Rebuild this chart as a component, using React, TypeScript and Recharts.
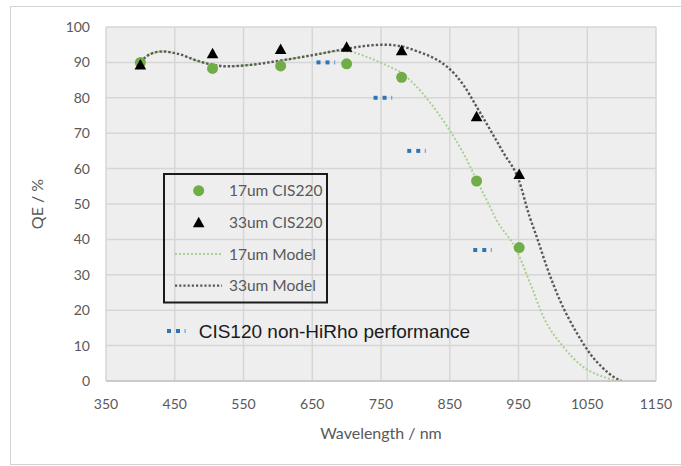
import React from 'react';
import { ComposedChart, XAxis, YAxis, CartesianGrid, Line, Scatter, Legend } from 'recharts';

// ---- data ----
const xTicks = [350, 450, 550, 650, 750, 850, 950, 1050, 1150];
const yTicks = [0, 10, 20, 30, 40, 50, 60, 70, 80, 90, 100];

const wl17 = [400, 505, 604, 700, 780, 889, 951];
const qe17 = [90, 88.3, 89, 89.6, 85.8, 56.5, 37.7];

const wl33 = [400, 505, 604, 700, 780, 889, 951];
const qe33 = [89.4, 92.6, 93.8, 94.4, 93.4, 74.8, 58.5];

const wlCis120 = [670, 753, 802, 898];
const qeCis120 = [90, 80, 65, 37];

const wlModel33 = [400, 415, 432, 453, 487, 525, 560, 603, 652, 690, 729, 755, 778, 802, 825, 846, 870, 889, 909, 928, 950, 966, 976, 991, 1010, 1035, 1055, 1071, 1088, 1100];
const qeModel33 = [90.2, 92.4, 93.1, 92.5, 90.2, 88.9, 89.3, 90.5, 92.1, 93.5, 94.7, 95.0, 94.6, 93.2, 91.4, 88.8, 83.6, 77.5, 70.9, 64.5, 57.0, 46.5, 41.0, 32.3, 22.9, 13.5, 7.5, 4.0, 1.2, 0];

const wlModel17 = [400, 415, 432, 453, 487, 525, 560, 603, 652, 690, 705, 730, 760, 780, 800, 820, 846, 870, 889, 904, 918, 947, 967, 986, 1015, 1044, 1073, 1093];
const qeModel17 = [90.2, 92.4, 93.1, 92.5, 90.2, 88.9, 89.3, 90.5, 92.1, 93.2, 93.0, 91.5, 89.0, 87.0, 83.5, 79.0, 72.0, 64.3, 56.8, 51.0, 45.5, 37.0, 27.6, 18.2, 9.7, 4.0, 1.2, 0];

const legendLabels = ['17um CIS220', '33um CIS220', '17um Model', '33um Model'];
const cisLabel = 'CIS120 non-HiRho performance';

const zip = (xs: number[], ys: number[]) => xs.map((x, i) => ({ x, y: ys[i] }));

const d17 = zip(wl17, qe17);
const d33 = zip(wl33, qe33);
const dCis = zip(wlCis120, qeCis120);
const dM33 = zip(wlModel33, qeModel33);
const dM17 = zip(wlModel17, qeModel17);

// ---- styles ----
const GREEN = '#70ad47';
const GREEN_MODEL = '#a9d08e';
const DARK_MODEL = '#595959';
const BLUE = '#2e75b6';
const BLUE_LIGHT = '#6fa3d6';
const TEXT_GRAY = '#595959';
const FONT = 'Lato, "Open Sans", sans-serif';

const CircleShape = (p: any) => <circle cx={p.cx} cy={p.cy} r={5.5} fill={GREEN} />;
const TriangleShape = (p: any) => (
  <polygon points={`${p.cx},${p.cy - 5.5} ${p.cx - 5.8},${p.cy + 5} ${p.cx + 5.8},${p.cy + 5}`} fill="#000" />
);
const BlueMark = ({ cx, cy }: { cx: number; cy: number }) => {
  const x0 = cx - 9.5;
  return (
    <g>
      <rect x={x0} y={cy - 2} width={4} height={4} fill={BLUE} />
      <rect x={x0 + 9} y={cy - 2} width={4} height={4} fill={BLUE} />
      <rect x={x0 + 17.5} y={cy - 2} width={1.2} height={4} fill={BLUE_LIGHT} />
    </g>
  );
};
const BlueShape = (p: any) => <BlueMark cx={p.cx} cy={p.cy} />;

const LegendContent = () => {
  // local coordinates: wrapper placed at (150,165)
  const ox = 150;
  const oy = 165;
  const rows = [190.7, 222.3, 254, 285.7].map((v) => v - oy);
  const tx = 229 - ox;
  const sx = 198.7 - ox;
  return (
    <svg width={340} height={185} style={{ display: 'block', overflow: 'visible' }}>
      <rect x={164 - ox} y={174 - oy} width={163} height={128.5} fill="none" stroke="#1a1a1a" strokeWidth={2} />
      <circle cx={sx} cy={rows[0]} r={5.5} fill={GREEN} />
      <polygon points={`${sx},${rows[1] - 5.5} ${sx - 5.8},${rows[1] + 5} ${sx + 5.8},${rows[1] + 5}`} fill="#000" />
      <line x1={175 - ox} x2={222 - ox} y1={rows[2]} y2={rows[2]} stroke={GREEN_MODEL} strokeWidth={2} strokeDasharray="2 2" />
      <line x1={175 - ox} x2={222 - ox} y1={rows[3]} y2={rows[3]} stroke={DARK_MODEL} strokeWidth={2.2} strokeDasharray="2.2 2" />
      {legendLabels.map((t, i) => (
        <text key={t} x={tx} y={rows[i] + 5.6} fontSize={15.5} fontFamily={FONT} fill={TEXT_GRAY}>
          {t}
        </text>
      ))}
      <BlueMark cx={176.5 - ox} cy={331 - oy} />
      <text x={198.7 - ox} y={337.8 - oy} fontSize={19} fontFamily='"Liberation Sans", Arial, sans-serif' fill="#1a1a1a">
        {cisLabel}
      </text>
    </svg>
  );
};

const YLabel = (props: any) => {
  const vb = props.viewBox || { x: 0, y: 27, width: 106, height: 354 };
  const cx = 36;
  const cy = vb.y + vb.height / 2;
  return (
    <text x={cx} y={cy} transform={`rotate(-90 ${cx} ${cy})`} textAnchor="middle" dominantBaseline="central" fontSize={16} fontFamily={FONT} fill={TEXT_GRAY}>
      QE / %
    </text>
  );
};

const XLabel = (props: any) => {
  const vb = props.viewBox || { x: 106, y: 381, width: 550, height: 85 };
  return (
    <text x={vb.x + vb.width / 2} y={vb.y + 58} textAnchor="middle" fontSize={16} fontFamily={FONT} fill={TEXT_GRAY}>
      Wavelength / nm
    </text>
  );
};

export default function App() {
  return (
    <div style={{ position: 'absolute', left: 0, top: 0, width: 681, height: 466, background: '#fff', overflow: 'hidden' }}>
      <div
        style={{
          position: 'absolute',
          left: 10,
          top: 6,
          width: 671,
          height: 459,
          boxSizing: 'border-box',
          borderTop: '1px solid #d4d4d4',
          borderLeft: '1px solid #d4d4d4',
          borderBottom: '1px solid #d4d4d4',
        }}
      />
      <div style={{ position: 'absolute', left: 0, top: 0 }}>
        <ComposedChart width={681} height={466} margin={{ top: 27, right: 25, bottom: 0, left: 0 }}>
          <CartesianGrid fill="#eeeeee" stroke="#d6d6d6" strokeWidth={1.5} />
          <XAxis
            type="number"
            dataKey="x"
            domain={[350, 1150]}
            ticks={xTicks}
            interval={0}
            height={85}
            tickLine={false}
            tickSize={6}
            tickMargin={12}
            axisLine={{ stroke: '#c4c4c4', strokeWidth: 1.5 }}
            tick={{ fill: TEXT_GRAY, fontSize: 14, fontFamily: FONT }}
            label={{ content: XLabel }}
            allowDataOverflow
          />
          <YAxis
            type="number"
            domain={[0, 100]}
            ticks={yTicks}
            interval={0}
            width={106}
            tickLine={false}
            tickSize={6}
            tickMargin={10}
            axisLine={false}
            tick={{ fill: TEXT_GRAY, fontSize: 14, fontFamily: FONT }}
            label={{ content: YLabel }}
            allowDataOverflow
          />
          <Line data={dM17} dataKey="y" type="monotone" stroke={GREEN_MODEL} strokeWidth={2} strokeDasharray="2 2" dot={false} activeDot={false} isAnimationActive={false} legendType="none" />
          <Line data={dM33} dataKey="y" type="monotone" stroke={DARK_MODEL} strokeWidth={2.4} strokeDasharray="2.4 2" dot={false} activeDot={false} isAnimationActive={false} legendType="none" />
          <Scatter data={dCis} dataKey="y" shape={BlueShape} isAnimationActive={false} legendType="none" />
          <Scatter data={d17} dataKey="y" shape={CircleShape} isAnimationActive={false} legendType="none" />
          <Scatter data={d33} dataKey="y" shape={TriangleShape} isAnimationActive={false} legendType="none" />
          <Legend
            layout="horizontal"
            verticalAlign="middle"
            align="center"
            content={LegendContent}
            wrapperStyle={{ position: 'absolute', left: 150, top: 165, width: 340, height: 185, pointerEvents: 'none' }}
          />
        </ComposedChart>
      </div>
    </div>
  );
}
